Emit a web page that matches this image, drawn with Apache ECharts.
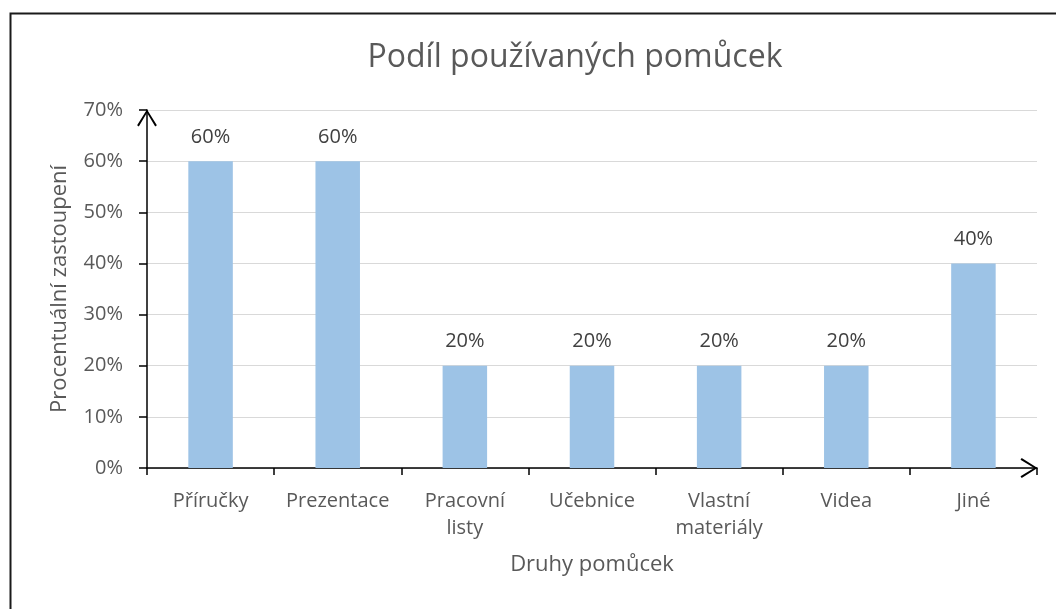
<!DOCTYPE html>
<html>
<head>
<meta charset="utf-8">
<script src="https://cdn.jsdelivr.net/npm/echarts@6/dist/echarts.min.js"></script>
<style>
  html, body { margin: 0; padding: 0; background: #fff; }
  #chart { width: 1056px; height: 609px; }
</style>
</head>
<body>
<div id="chart"></div>
<script>
const categories = ["Příručky", "Prezentace", "Pracovní\nlisty", "Učebnice", "Vlastní\nmateriály", "Videa", "Jiné"];
const shares = [60, 60, 20, 20, 20, 20, 40];
const yTicks = { min: 0, max: 70, interval: 10 };

// open chevron pointing up, used as the axis end arrow
const arrowPath = "path://M10 0 L20 16 L18.3 17.2 L10 3.4 L1.7 17.2 L0 16 Z";
const font = "'Open Sans', 'Liberation Sans', sans-serif";

const chart = echarts.init(document.getElementById("chart"));

chart.setOption({
  backgroundColor: "#fff",
  animation: false,
  textStyle: { fontFamily: font },
  title: {
    text: "Podíl používaných pomůcek",
    left: 570,
    textAlign: "center",
    top: 37,
    textStyle: { color: "#595959", fontSize: 32, fontWeight: "normal", fontFamily: font }
  },
  graphic: [
    {
      type: "rect",
      left: 8,
      top: 11,
      shape: { width: 1100, height: 700 },
      style: { fill: "none", stroke: "#1a1a1a", lineWidth: 2 },
      silent: true
    }
  ],
  grid: { left: 147, right: 19, top: 110, bottom: 141 },
  xAxis: {
    type: "category",
    data: categories,
    name: "Druhy pomůcek",
    nameLocation: "middle",
    nameGap: 86,
    nameTextStyle: { color: "#595959", fontSize: 22 },
    axisLine: {
      lineStyle: { color: "#000", width: 1.5 },
      symbol: ["none", arrowPath],
      symbolSize: [20, 17],
      symbolOffset: [0, -8]
    },
    axisTick: { show: true, interval: 0, length: 7, lineStyle: { color: "#000", width: 1.5 } },
    axisLabel: { color: "#595959", fontSize: 20, margin: 20, lineHeight: 27, interval: 0, hideOverlap: false },
    splitLine: { show: false }
  },
  yAxis: {
    type: "value",
    min: yTicks.min,
    max: yTicks.max,
    interval: yTicks.interval,
    name: "Procentuální zastoupení",
    nameLocation: "middle",
    nameRotate: 90,
    nameGap: 76,
    nameTextStyle: { color: "#595959", fontSize: 22 },
    axisLine: {
      show: true,
      lineStyle: { color: "#000", width: 1.5 },
      symbol: ["none", arrowPath],
      symbolSize: [20, 17],
      symbolOffset: [0, -8]
    },
    axisTick: { show: true, length: 8, lineStyle: { color: "#000", width: 1.5 } },
    axisLabel: { color: "#595959", fontSize: 20, margin: 24, formatter: "{value}%" },
    splitLine: { show: true, lineStyle: { color: "#d9d9d9", width: 1 } }
  },
  series: [
    {
      type: "bar",
      data: shares,
      barWidth: "35%",
      itemStyle: { color: "#9dc3e6" },
      label: {
        show: true,
        position: "top",
        distance: 14,
        color: "#404040",
        fontSize: 20,
        formatter: "{c}%"
      }
    }
  ]
});
</script>
</body>
</html>
